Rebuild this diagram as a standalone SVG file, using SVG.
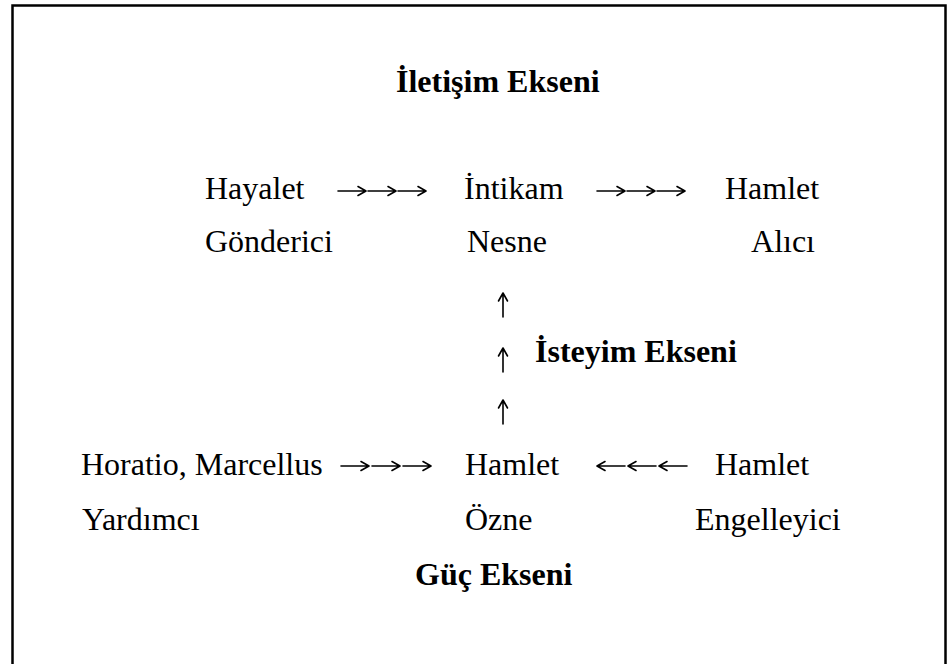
<svg xmlns="http://www.w3.org/2000/svg" width="949" height="664" viewBox="0 0 949 664">
  <style>
    text { font-family: "Liberation Serif", "Times New Roman", serif; font-size: 32px; fill: #000; }
    .b { font-weight: bold; }
    .arrow { fill: none; stroke: #000; stroke-width: 1.6; stroke-linecap: round; stroke-linejoin: round; }
  </style>
  <defs>
    <!-- single long thin arrow pointing right, origin at tail -->
    <path id="arr" class="arrow" d="M1,0 H29 M21,-4.5 L29,0 L21,4.5"/>
    <path id="arr-up" class="arrow" d="M0,25 V1 M-4.5,9 L0,1 L4.5,9"/>
  </defs>
  <rect x="0" y="0" width="949" height="664" fill="#fff"/>
  <!-- frame (bottom edge runs off the page) -->
  <rect x="12.5" y="5.5" width="933" height="700" fill="none" stroke="#000" stroke-width="2.5"/>

  <g id="axis-communication"><text class="b" x="396" y="92">İletişim Ekseni</text></g>

  <g id="sender">
    <text x="205" y="199">Hayalet</text>
    <text x="205" y="252">Gönderici</text>
  </g>
  <g id="object">
    <text x="464" y="199">İntikam</text>
    <text x="467" y="252">Nesne</text>
  </g>
  <g id="receiver">
    <text x="725" y="199">Hamlet</text>
    <text x="815" y="252" text-anchor="end">Alıcı</text>
  </g>

  <g id="axis-desire"><text class="b" x="535" y="362">İsteyim Ekseni</text></g>

  <g id="helper">
    <text x="81" y="475">Horatio, Marcellus</text>
    <text x="82" y="530">Yardımcı</text>
  </g>
  <g id="subject">
    <text x="465" y="475">Hamlet</text>
    <text x="465" y="530">Özne</text>
  </g>
  <g id="opponent">
    <text x="715" y="475">Hamlet</text>
    <text x="695" y="530">Engelleyici</text>
  </g>

  <g id="axis-power"><text class="b" x="415" y="585">Güç Ekseni</text></g>

  <g id="connectors">
    <!-- Gönderici → Nesne -->
    <use href="#arr" x="337" y="191"/>
    <use href="#arr" x="367" y="191"/>
    <use href="#arr" x="397" y="191"/>
    <!-- Nesne → Alıcı -->
    <use href="#arr" x="596" y="191"/>
    <use href="#arr" x="626" y="191"/>
    <use href="#arr" x="656" y="191"/>
    <!-- Özne ↑ Nesne -->
    <use href="#arr-up" x="503" y="292"/>
    <use href="#arr-up" x="503" y="347"/>
    <use href="#arr-up" x="503" y="399"/>
    <!-- Yardımcı → Özne -->
    <use href="#arr" x="340" y="466"/>
    <use href="#arr" x="371" y="466"/>
    <use href="#arr" x="402" y="466"/>
    <!-- Engelleyici ← Özne -->
    <g transform="translate(688,466) scale(-1,1)">
      <use href="#arr" x="0" y="0"/>
      <use href="#arr" x="31" y="0"/>
      <use href="#arr" x="62" y="0"/>
    </g>
  </g>
</svg>
